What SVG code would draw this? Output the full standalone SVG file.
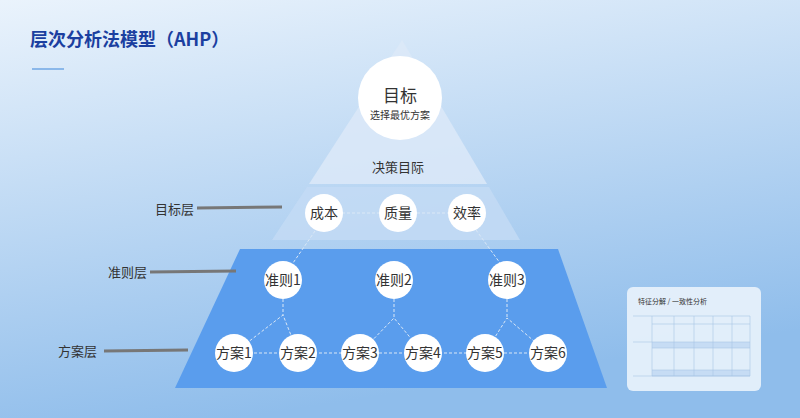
<svg xmlns="http://www.w3.org/2000/svg" width="800" height="418" viewBox="0 0 800 418">
<defs>
<linearGradient id="bg" x1="0" y1="0" x2="0.3" y2="1"><stop offset="0" stop-color="#eaf3fc"/><stop offset="1" stop-color="#8fbdeb"/></linearGradient>
<style>
text{font-family:"Noto Sans CJK SC","Liberation Sans",sans-serif;fill:#333;text-anchor:middle}
.n{fill:#fff}
.t{font-size:14px}
.lab{font-size:13px;text-anchor:start;fill:#333}
.ll{stroke:#777;stroke-width:3}
.c{stroke:#dbe8f6;stroke-width:1;stroke-dasharray:3 2;fill:none}
.g{stroke:#a9c6e6;stroke-width:0.6;fill:none}
</style>
</defs>
<rect width="800" height="418" fill="url(#bg)"/>
<text x="30" y="46" style="font-size:18px;font-weight:bold;fill:#1b3fa0;text-anchor:start">层次分析法模型（AHP）</text>
<line x1="32" y1="69" x2="64" y2="69" stroke="#8bb8ea" stroke-width="2"/>
<polygon points="402,40 487,184 309,184" fill="#dce9f8" opacity="0.85"/>
<polygon points="307,187 489,187 520,240 272,240" fill="#c3dbf5" opacity="0.85"/>
<polygon points="240,249 558,249 607,388 175,388" fill="#5a9ded"/>
<text x="398" y="172" style="font-size:13px">决策目际</text>
<g id="labels">
<text x="155" y="214" class="lab">目标层</text><line x1="197" y1="208" x2="282" y2="207" class="ll"/>
<text x="108" y="277" class="lab">准则层</text><line x1="150" y1="272" x2="236" y2="271" class="ll"/>
<text x="58" y="356" class="lab">方案层</text><line x1="104" y1="351" x2="188" y2="350" class="ll"/>
</g>
<g id="connectors">
<line x1="342" y1="213" x2="452" y2="213" class="c"/>
<line x1="315" y1="231" x2="293" y2="263" class="c"/>
<line x1="476" y1="230" x2="500" y2="263" class="c"/>
<line x1="234" y1="353" x2="548" y2="353" class="c"/>
<polyline points="234,353 283,315 298,353" class="c"/>
<line x1="283" y1="299" x2="283" y2="315" class="c"/>
<polyline points="360,353 394,318 423,353" class="c"/>
<line x1="394" y1="299" x2="394" y2="318" class="c"/>
<polyline points="485,353 507,318 548,353" class="c"/>
<line x1="507" y1="299" x2="507" y2="318" class="c"/>
</g>
<g id="goal"><circle cx="400" cy="98" r="42" class="n"/><text x="400" y="102" style="font-size:17px">目标</text><text x="400" y="119" style="font-size:10px">选择最优方案</text></g>
<g id="c1"><circle cx="324" cy="213" r="19" class="n"/><text x="324" y="218" class="t">成本</text></g>
<g id="c2"><circle cx="398" cy="213" r="19" class="n"/><text x="398" y="218" class="t">质量</text></g>
<g id="c3"><circle cx="467" cy="213" r="19" class="n"/><text x="467" y="218" class="t">效率</text></g>
<g id="k1"><circle cx="283" cy="280" r="19" class="n"/><text x="283" y="285" class="t">准则1</text></g>
<g id="k2"><circle cx="394" cy="280" r="19" class="n"/><text x="394" y="285" class="t">准则2</text></g>
<g id="k3"><circle cx="507" cy="280" r="19" class="n"/><text x="507" y="285" class="t">准则3</text></g>
<g id="p1"><circle cx="234" cy="353" r="19" class="n"/><text x="234" y="358" class="t">方案1</text></g>
<g id="p2"><circle cx="298" cy="353" r="19" class="n"/><text x="298" y="358" class="t">方案2</text></g>
<g id="p3"><circle cx="360" cy="353" r="19" class="n"/><text x="360" y="358" class="t">方案3</text></g>
<g id="p4"><circle cx="423" cy="353" r="19" class="n"/><text x="423" y="358" class="t">方案4</text></g>
<g id="p5"><circle cx="485" cy="353" r="19" class="n"/><text x="485" y="358" class="t">方案5</text></g>
<g id="p6"><circle cx="548" cy="353" r="19" class="n"/><text x="548" y="358" class="t">方案6</text></g>
<g id="card">
<rect x="627" y="287" width="134" height="104" rx="6" fill="#e6f0fb" opacity="0.95"/>
<text x="638" y="304" style="font-size:7px;text-anchor:start">特征分解 / 一致性分析</text>
<rect x="652" y="342" width="98" height="6" fill="#c6dcf4"/>
<rect x="652" y="370" width="98" height="6" fill="#c6dcf4"/>
<path d="M633 316H750M652 324H750M633 342H750M652 348H750M652 370H750M652 376H750M633 376H750M652 316V376M674 316V376M694 316V376M713 316V376M732 316V376M750 316V376" class="g"/>
</g>
</svg>
